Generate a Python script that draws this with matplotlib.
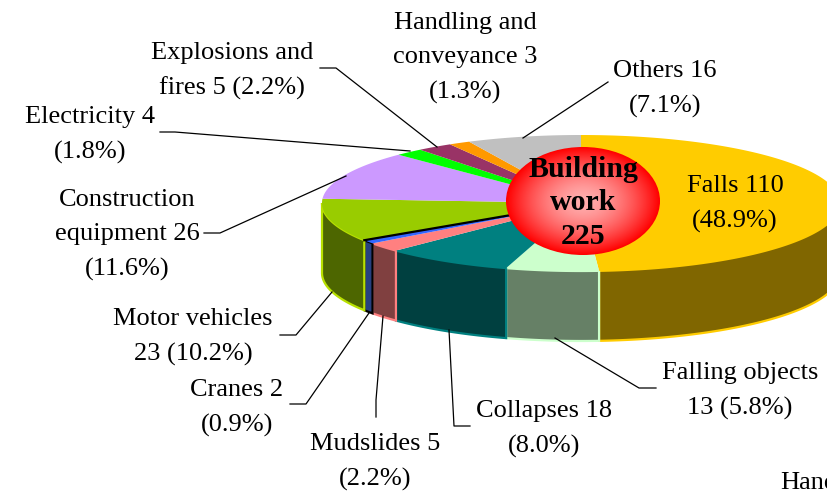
#!/usr/bin/env python3
"""3D looking pie of building work accidents, drawn by hand on a pixel canvas."""

import numpy as np
import matplotlib
matplotlib.use('Agg')
import matplotlib.pyplot as plt
from matplotlib.patches import Polygon, Ellipse

names = ['Falls', 'Falling objects', 'Collapses', 'Mudslides', 'Cranes', 'Motor vehicles',
         'Construction equipment', 'Electricity', 'Explosions and fires',
         'Handling and conveyance', 'Others']
values = [110, 13, 18, 5, 2, 23, 26, 4, 5, 3, 16]
total = 225

top_colors = ['#ffcc00', '#ccffcc', '#008080', '#ff8080', '#3366ff', '#99cc00',
              '#cc99ff', '#00ff00', '#993366', '#ff9900', '#c0c0c0']
wall_colors = ['#806600', '#668066', '#004040', '#804040', '#264080', '#4d6600',
               '#664d80', '#008000', '#4d1a33', '#804d00', '#606060']
wall_edges = ['#ffcc00', '#ccffcc', '#008080', '#ff8080', '#000000', '#b8e000',
              '#cc99ff', '#00ff00', '#993366', '#ff9900', '#c0c0c0']

label_fmt = ['Falls {v}\n({p}%)', 'Falling objects\n{v} ({p}%)', 'Collapses {v}\n({p}%)',
             'Mudslides {v}\n({p}%)', 'Cranes {v}\n({p}%)', 'Motor vehicles\n{v} ({p}%)',
             'Construction\nequipment {v}\n({p}%)', 'Electricity {v}\n({p}%)',
             'Explosions and\nfires {v} ({p}%)', 'Handling and\nconveyance {v}\n({p}%)',
             'Others {v}\n({p}%)']
label_pos = [(735, 204), (740, 391), (544, 429), (375, 462), (237, 408), (193, 337),
             (127, 235), (90, 135), (232, 71), (465, 58), (665, 89)]
leaders = [None,
           [(555, 338), (639, 388), (656, 388)],
           [(449, 330), (454, 426), (470, 426)],
           [(383, 316), (376, 400), (376, 417)],
           [(369, 313), (306, 404), (290, 404)],
           [(332, 292), (296, 335), (280, 335)],
           [(346, 176), (220, 233), (204, 233)],
           [(410, 151), (175, 132), (160, 132)],
           [(437, 147), (336, 68), (320, 68)],
           None,
           [(523, 138), (608, 82)]]

# pie geometry in pixels
cx, cy, rx, ry = 581, 203, 259, 68
depth = 70
FONT = 'Liberation Serif'


def arc(a0, a1, dy=0):
    """Points on the rim, angles in degrees clockwise from 12 o'clock."""
    t = np.radians(np.linspace(a0, a1, max(int(abs(a1 - a0)) * 2, 2)))
    return np.column_stack([cx + rx * np.sin(t), cy - ry * np.cos(t) + dy])


fig = plt.figure(figsize=(8.27, 4.95), dpi=100)
ax = fig.add_axes([0, 0, 1, 1])
ax.set_xlim(0, 827)
ax.set_ylim(495, 0)
ax.axis('off')

edges = 360 * np.cumsum([0] + values) / total

# outer walls of the front half
for i in range(len(values)):
    a0, a1 = max(edges[i], 90), min(edges[i + 1], 270)
    if a1 <= a0:
        continue
    pts = np.vstack([arc(a0, a1), arc(a0, a1, depth)[::-1]])
    ax.add_patch(Polygon(pts, closed=True, fc=wall_colors[i], ec=wall_edges[i], lw=1.6, zorder=2))

# top faces
for i in range(len(values)):
    pts = np.vstack([[(cx, cy)], arc(edges[i], edges[i + 1])])
    ax.add_patch(Polygon(pts, closed=True, fc=top_colors[i], ec='none', zorder=3))

# black line between cranes and motor vehicles
p = arc(edges[5], edges[5] + 0.01)[0]
ax.plot([cx, p[0]], [cy, p[1]], color='k', lw=1.6, zorder=4)

# red hub with a radial gradient
hub = Ellipse((583, 201), 154, 108, fc='none', ec='none', zorder=5)
ax.add_patch(hub)
yy, xx = np.mgrid[-1:1:200j, -1:1:200j]
rr = np.clip(np.hypot(xx, yy), 0, 1)
shade = np.zeros(rr.shape + (3,))
shade[..., 0] = 1.0
shade[..., 1] = 0.68 * (1 - rr ** 1.6)
shade[..., 2] = 0.68 * (1 - rr ** 1.6)
im = ax.imshow(shade, extent=(506, 660, 255, 147), zorder=5, aspect='auto', interpolation='bilinear')
im.set_clip_path(hub)
ax.set_xlim(0, 827)
ax.set_ylim(495, 0)
ax.text(583, 203, f'Building\nwork\n{total}', ha='center', va='center', family=FONT,
        fontsize=21.5, fontweight='bold', linespacing=1.3, color='k', zorder=6)

# labels and leader lines
for i, fmt in enumerate(label_fmt):
    txt = fmt.format(v=values[i], p=f'{100 * values[i] / total:.1f}')
    ax.text(*label_pos[i], txt, ha='center', va='center', family=FONT, fontsize=19,
            linespacing=1.74, color='k', zorder=7)
    if leaders[i]:
        xs, ys = zip(*leaders[i])
        ax.plot(xs, ys, color='k', lw=0.9, zorder=4)

# start of the next chart's title, cut by the page edge
ax.text(780, 483, 'Handling', ha='left', va='center', family=FONT, fontsize=19, color='k', zorder=7)

fig.savefig('out.png', dpi=100)
